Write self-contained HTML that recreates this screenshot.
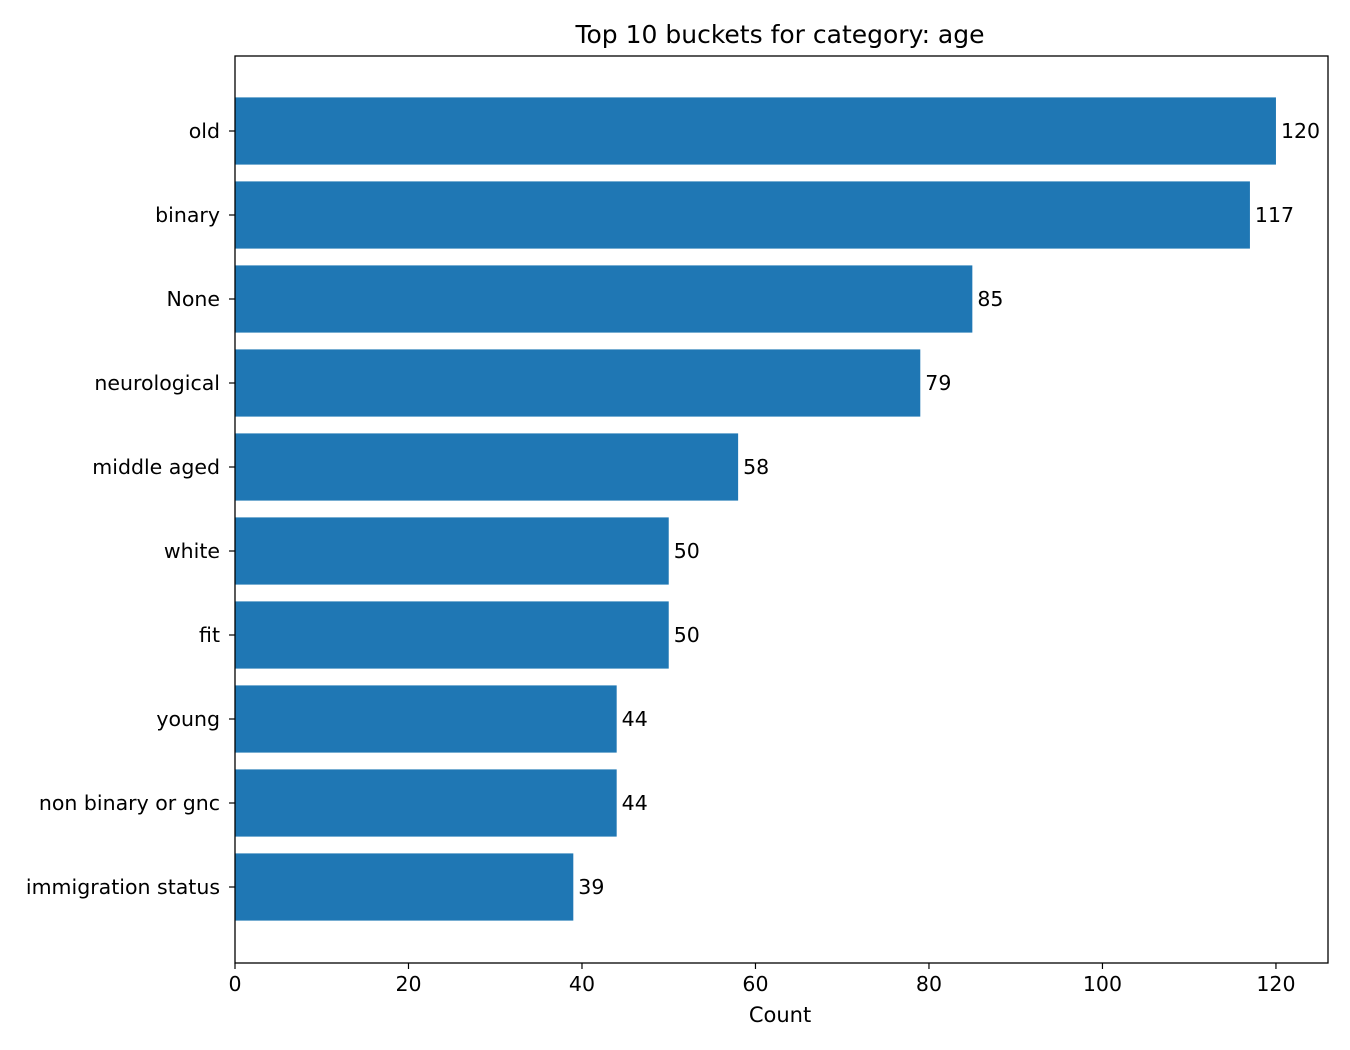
<!DOCTYPE html>
<html><head><meta charset="utf-8"><style>
body{margin:0;background:#fff;}
svg{display:block;font-family:"DejaVu Sans","Liberation Sans",sans-serif;}
</style></head><body>
<svg id="chart" width="1350" height="1050">
<text x="780" y="43" text-anchor="middle" font-size="25">Top 10 buckets for category: age</text>
<g id="bars"></g>
<rect x="235" y="56" width="1093" height="907" fill="none" stroke="#000" stroke-width="1.3"/>
<g id="xticks"></g>
<g id="yticks"></g>
<text x="780" y="1022" text-anchor="middle" font-size="21">Count</text>
</svg>
<script>
const categories=["old","binary","None","neurological","middle aged","white","fit","young","non binary or gnc","immigration status"];
const values=[120,117,85,79,58,50,50,44,44,39];
const xTicks=[0,20,40,60,80,100,120];
const NS="http://www.w3.org/2000/svg";
const L=235,R=1328,T=56,B=963,XMAX=126;
const xs=v=>L+(R-L)*v/XMAX;
const band=84, y0=131;
const ys=i=>y0+band*i;
function mk(tag,attrs,parent){const e=document.createElementNS(NS,tag);for(const k in attrs)e.setAttribute(k,attrs[k]);parent.appendChild(e);return e;}
const gb=document.getElementById('bars'),gx=document.getElementById('xticks'),gy=document.getElementById('yticks');
categories.forEach((c,i)=>{
 const cy=ys(i),h=band*0.8;
 const r=mk('rect',{x:L,y:cy-h/2,width:xs(values[i])-L,height:h,fill:'#1f77b4'},gb);
 
 
 const t=mk('text',{x:xs(values[i])+5,y:cy+7,'font-size':20.5},gb);t.textContent=values[i];
 
 
 mk('line',{x1:L-6,x2:L,y1:cy,y2:cy,stroke:'#000','stroke-width':1.2},gy);
 const yl=mk('text',{x:L-15,y:cy+7,'text-anchor':'end','font-size':20.5},gy);yl.textContent=c;
 
 
});
xTicks.forEach(v=>{
 const x=xs(v);
 mk('line',{x1:x,x2:x,y1:B,y2:B+6,stroke:'#000','stroke-width':1.2},gx);
 const t=mk('text',{x:x,y:B+28,'text-anchor':'middle','font-size':20.5},gx);t.textContent=v;
 
 
});
</script>
</body></html>
